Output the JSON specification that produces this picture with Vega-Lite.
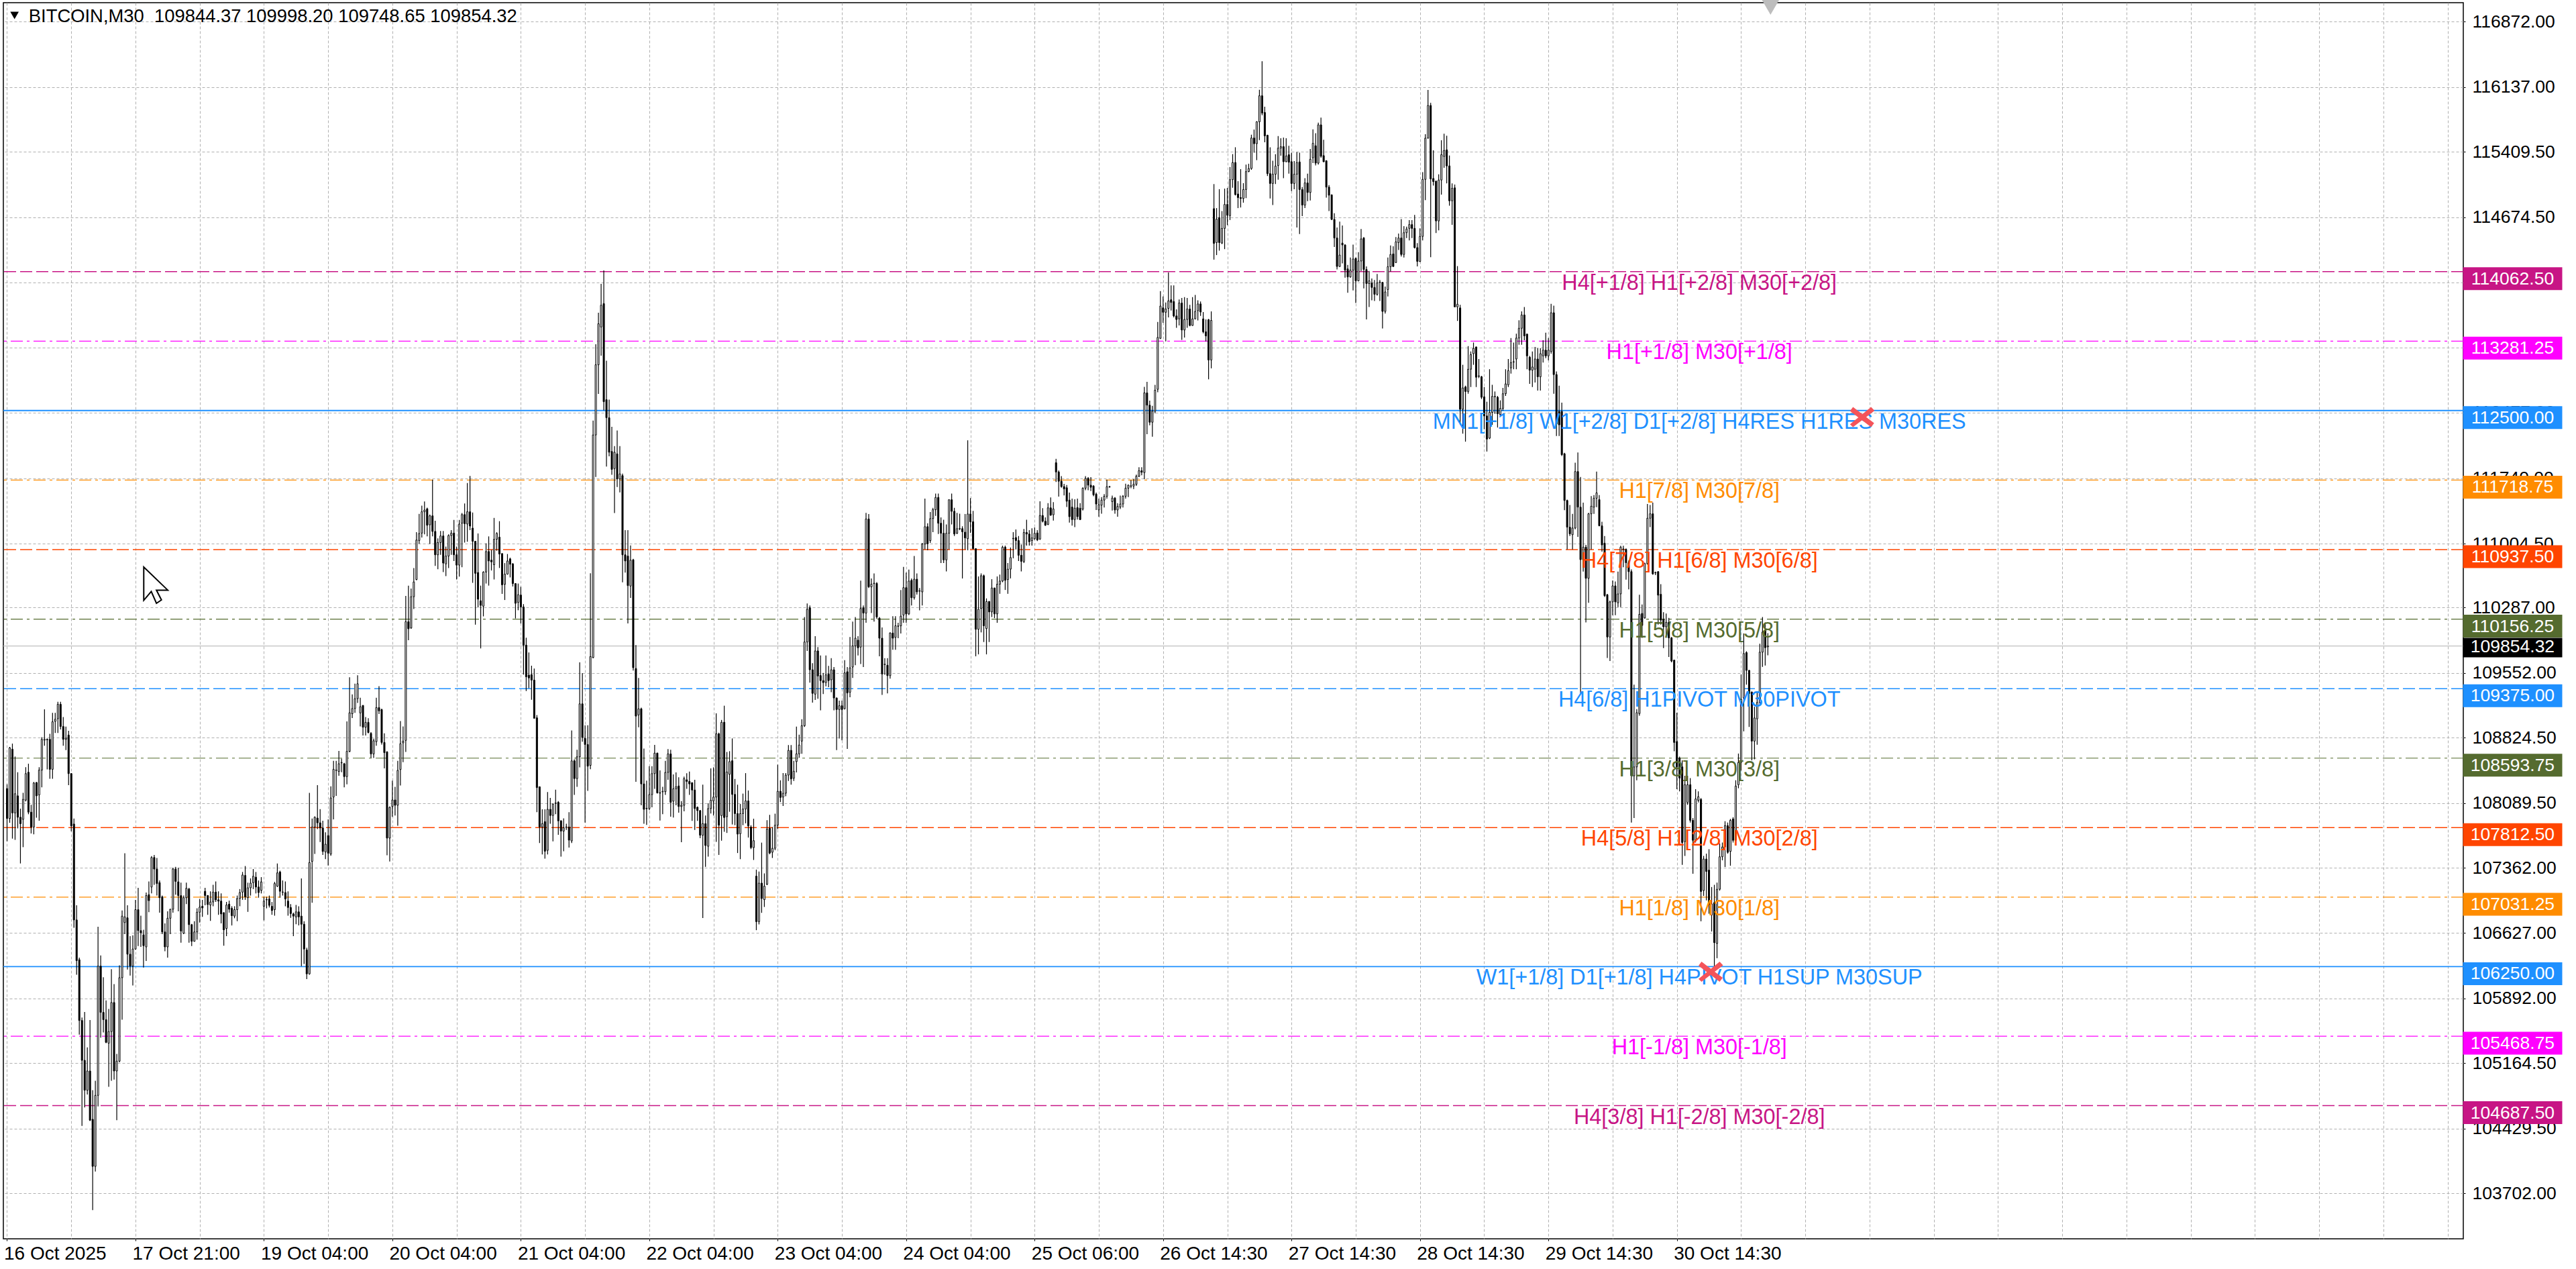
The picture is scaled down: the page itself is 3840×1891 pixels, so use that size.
{"$schema":"https://vega.github.io/schema/vega-lite/v6.json","width":3667,"height":1842,"autosize":{"type":"none"},"padding":{"left":5,"top":4,"right":168,"bottom":45},"background":"#ffffff","view":{"stroke":"#000000","strokeWidth":1.5},"datasets":{"levels":[{"p":114062.5,"name":"H4[+1/8] H1[+2/8] M30[+2/8]","band":"violet","kind":"dash","tag":"114062.50"},{"p":113281.25,"name":"H1[+1/8] M30[+1/8]","band":"magenta","kind":"dashdot","tag":"113281.25"},{"p":112500,"name":"MN1[+1/8] W1[+2/8] D1[+2/8] H4RES H1RES M30RES","band":"blue","kind":"heavy","tag":"112500.00"},{"p":111718.75,"name":"H1[7/8] M30[7/8]","band":"orange","kind":"dashdot","tag":"111718.75"},{"p":110937.5,"name":"H4[7/8] H1[6/8] M30[6/8]","band":"red","kind":"dash","tag":"110937.50"},{"p":110156.25,"name":"H1[5/8] M30[5/8]","band":"olive","kind":"dashdot","tag":"110156.25"},{"p":109375,"name":"H4[6/8] H1PIVOT M30PIVOT","band":"blue","kind":"dash","tag":"109375.00"},{"p":108593.75,"name":"H1[3/8] M30[3/8]","band":"olive","kind":"dashdot","tag":"108593.75"},{"p":107812.5,"name":"H4[5/8] H1[2/8] M30[2/8]","band":"red","kind":"dash","tag":"107812.50"},{"p":107031.25,"name":"H1[1/8] M30[1/8]","band":"orange","kind":"dashdot","tag":"107031.25"},{"p":106250,"name":"W1[+1/8] D1[+1/8] H4PIVOT H1SUP M30SUP","band":"blue","kind":"solid","tag":"106250.00"},{"p":105468.75,"name":"H1[-1/8] M30[-1/8]","band":"magenta","kind":"dashdot","tag":"105468.75"},{"p":104687.5,"name":"H4[3/8] H1[-2/8] M30[-2/8]","band":"violet","kind":"dash","tag":"104687.50"}],"last":[{"p":109854.32,"tag":"109854.32"}],"notes":[{"what":"cross","i":693.2,"p":112427},{"what":"cross","i":636.6,"p":106193},{"what":"cursor","i":55.6,"p":110538},{"what":"shift","i":659,"p":117047},{"what":"menu","i":2.8,"p":116942}],"head":[{"i":8.1,"p":116927,"t":"BITCOIN,M30 \u00a0109844.37 109998.20 109748.65 109854.32"}],"c":[
{"i":0,"o":108252,"h":108300,"l":107660,"c":107915},{"i":1,"o":107915,"h":108720,"l":107867,"c":108709},{"i":2,"o":108694,"h":108757,"l":107689,"c":107978},{"i":3,"o":107978,"h":108612,"l":107675,"c":108194},{"i":4,"o":108170,"h":108435,"l":107804,"c":107929},{"i":5,"o":107929,"h":108026,"l":107410,"c":107857},{"i":6,"o":107905,"h":108204,"l":107593,"c":108131},{"i":7,"o":108122,"h":108492,"l":108107,"c":108420},{"i":8,"o":108435,"h":108531,"l":107963,"c":107987},{"i":9,"o":107987,"h":108069,"l":107747,"c":107819},
{"i":10,"o":107819,"h":108325,"l":107737,"c":108314},{"i":11,"o":108319,"h":108325,"l":107925,"c":108170},{"i":12,"o":108180,"h":108492,"l":107891,"c":108459},{"i":13,"o":108459,"h":108829,"l":108266,"c":108805},{"i":14,"o":108796,"h":109142,"l":108733,"c":108805},{"i":15,"o":108805,"h":108815,"l":108468,"c":108800},{"i":16,"o":108805,"h":108867,"l":108362,"c":108468},{"i":17,"o":108468,"h":109103,"l":108362,"c":109002},{"i":18,"o":109007,"h":109103,"l":108877,"c":109031},{"i":19,"o":109036,"h":109228,"l":108877,"c":109199},
{"i":20,"o":109199,"h":109228,"l":108916,"c":108949},{"i":21,"o":108949,"h":109055,"l":108733,"c":108805},{"i":22,"o":108805,"h":108949,"l":108685,"c":108819},{"i":23,"o":108853,"h":108901,"l":108290,"c":108420},{"i":24,"o":108420,"h":108425,"l":107771,"c":107833},{"i":25,"o":107853,"h":107915,"l":106688,"c":106775},{"i":26,"o":106775,"h":106939,"l":106159,"c":106318},{"i":27,"o":106328,"h":106352,"l":105486,"c":105645},{"i":28,"o":105645,"h":105678,"l":104461,"c":105197},{"i":29,"o":105197,"h":105741,"l":104668,"c":104861},
{"i":30,"o":104861,"h":105342,"l":104813,"c":105077},{"i":31,"o":105077,"h":105650,"l":104515,"c":104524},{"i":32,"o":104534,"h":104861,"l":103514,"c":104005},{"i":33,"o":104005,"h":104967,"l":103947,"c":104803},{"i":34,"o":104803,"h":106698,"l":104678,"c":106256},{"i":35,"o":106256,"h":106376,"l":105452,"c":105736},{"i":36,"o":105736,"h":106131,"l":105510,"c":105654},{"i":37,"o":105654,"h":105871,"l":105390,"c":105399},{"i":38,"o":105390,"h":105775,"l":104899,"c":105520},{"i":39,"o":105520,"h":106222,"l":104967,"c":105847},
{"i":40,"o":105847,"h":106054,"l":104981,"c":105077},{"i":41,"o":105077,"h":105270,"l":104524,"c":105188},{"i":42,"o":105188,"h":106265,"l":105174,"c":106126},{"i":43,"o":106126,"h":106881,"l":105654,"c":106818},{"i":44,"o":106746,"h":107525,"l":106616,"c":106809},{"i":45,"o":106799,"h":106939,"l":106217,"c":106390},{"i":46,"o":106390,"h":106592,"l":106150,"c":106256},{"i":47,"o":106256,"h":106602,"l":106039,"c":106448},{"i":48,"o":106448,"h":107001,"l":106440,"c":106891},{"i":49,"o":106891,"h":107136,"l":106482,"c":106655},
{"i":50,"o":106655,"h":106823,"l":106472,"c":106630},{"i":51,"o":106607,"h":106664,"l":106241,"c":106486},{"i":52,"o":106472,"h":107083,"l":106313,"c":107049},{"i":53,"o":107059,"h":107208,"l":106862,"c":106992},{"i":54,"o":107145,"h":107492,"l":107073,"c":107477},{"i":55,"o":107477,"h":107506,"l":107169,"c":107347},{"i":56,"o":107347,"h":107472,"l":107049,"c":107184},{"i":57,"o":107194,"h":107218,"l":106857,"c":107025},{"i":58,"o":107035,"h":107049,"l":106616,"c":106640},{"i":59,"o":106640,"h":106737,"l":106424,"c":106472},
{"i":60,"o":106472,"h":106871,"l":106352,"c":106794},{"i":61,"o":106794,"h":106900,"l":106616,"c":106895},{"i":62,"o":106895,"h":107362,"l":106857,"c":107347},{"i":63,"o":107347,"h":107372,"l":107059,"c":107208},{"i":64,"o":107203,"h":107362,"l":106871,"c":107049},{"i":65,"o":107049,"h":107194,"l":106520,"c":106650},{"i":66,"o":106626,"h":107049,"l":106616,"c":107025},{"i":67,"o":107025,"h":107194,"l":106953,"c":107131},{"i":68,"o":107122,"h":107136,"l":106520,"c":106722},{"i":69,"o":106722,"h":106730,"l":106482,"c":106535},
{"i":70,"o":106535,"h":106761,"l":106530,"c":106640},{"i":71,"o":106640,"h":106905,"l":106554,"c":106862},{"i":72,"o":106862,"h":107011,"l":106746,"c":106919},{"i":73,"o":106929,"h":107001,"l":106809,"c":106910},{"i":74,"o":107097,"h":107136,"l":106939,"c":107049},{"i":75,"o":107049,"h":107055,"l":106833,"c":106948},{"i":76,"o":106943,"h":107097,"l":106765,"c":106977},{"i":77,"o":106977,"h":107169,"l":106929,"c":107088},{"i":78,"o":107088,"h":107208,"l":106977,"c":107001},{"i":79,"o":107001,"h":107097,"l":106833,"c":106987},
{"i":80,"o":106987,"h":107073,"l":106737,"c":106842},{"i":81,"o":106857,"h":106860,"l":106486,"c":106664},{"i":82,"o":106679,"h":106977,"l":106592,"c":106943},{"i":83,"o":106953,"h":106992,"l":106857,"c":106895},{"i":84,"o":106905,"h":106929,"l":106713,"c":106823},{"i":85,"o":106818,"h":106929,"l":106794,"c":106891},{"i":86,"o":106891,"h":107049,"l":106761,"c":107016},{"i":87,"o":107016,"h":107122,"l":106929,"c":107083},{"i":88,"o":107088,"h":107314,"l":107001,"c":107280},{"i":89,"o":107275,"h":107381,"l":107001,"c":107035},
{"i":90,"o":107025,"h":107194,"l":106866,"c":107136},{"i":91,"o":107136,"h":107242,"l":107049,"c":107189},{"i":92,"o":107194,"h":107347,"l":107122,"c":107266},{"i":93,"o":107256,"h":107314,"l":107073,"c":107145},{"i":94,"o":107145,"h":107218,"l":107025,"c":107083},{"i":95,"o":107107,"h":107256,"l":107073,"c":107203},{"i":96,"o":106929,"h":107035,"l":106770,"c":106987},{"i":97,"o":107000,"h":107035,"l":106905,"c":107005},{"i":98,"o":107011,"h":107049,"l":106915,"c":106939},{"i":99,"o":106929,"h":106977,"l":106833,"c":106881},
{"i":100,"o":106891,"h":107203,"l":106823,"c":107184},{"i":101,"o":107155,"h":107410,"l":107145,"c":107304},{"i":102,"o":107314,"h":107328,"l":107025,"c":107097},{"i":103,"o":107085,"h":107218,"l":107049,"c":107090},{"i":104,"o":107083,"h":107208,"l":106929,"c":107011},{"i":105,"o":106987,"h":107097,"l":106823,"c":106915},{"i":106,"o":106915,"h":106953,"l":106799,"c":106847},{"i":107,"o":106842,"h":106857,"l":106592,"c":106818},{"i":108,"o":106809,"h":106943,"l":106727,"c":106866},{"i":109,"o":106866,"h":106929,"l":106713,"c":106809},
{"i":110,"o":106818,"h":107242,"l":106256,"c":106727},{"i":111,"o":106727,"h":106761,"l":106280,"c":106448},{"i":112,"o":106438,"h":106462,"l":106111,"c":106169},{"i":113,"o":106169,"h":108204,"l":106159,"c":107420},{"i":114,"o":107434,"h":107915,"l":106968,"c":107819},{"i":115,"o":107819,"h":107939,"l":107516,"c":107929},{"i":116,"o":107920,"h":108290,"l":107795,"c":107867},{"i":117,"o":107867,"h":108021,"l":107650,"c":107809},{"i":118,"o":107809,"h":107891,"l":107506,"c":107545},{"i":119,"o":107540,"h":107761,"l":107458,"c":107626},
{"i":120,"o":107723,"h":107905,"l":107386,"c":107525},{"i":121,"o":107516,"h":108276,"l":107497,"c":108146},{"i":122,"o":108156,"h":108564,"l":107905,"c":108468},{"i":123,"o":108455,"h":108564,"l":108170,"c":108460},{"i":124,"o":108444,"h":108675,"l":108396,"c":108531},{"i":125,"o":108540,"h":108588,"l":108435,"c":108545},{"i":126,"o":108531,"h":108540,"l":108266,"c":108386},{"i":127,"o":108386,"h":109007,"l":108300,"c":108670},{"i":128,"o":108670,"h":109502,"l":108660,"c":109103},{"i":129,"o":109093,"h":109310,"l":109045,"c":109151},
{"i":130,"o":109151,"h":109430,"l":109103,"c":109262},{"i":131,"o":109262,"h":109526,"l":109214,"c":109430},{"i":132,"o":109102,"h":109273,"l":108950,"c":109172},{"i":133,"o":109186,"h":109190,"l":108849,"c":108941},{"i":134,"o":108941,"h":109056,"l":108849,"c":108996},{"i":135,"o":108996,"h":109042,"l":108872,"c":108881},{"i":136,"o":108872,"h":108885,"l":108595,"c":108641},{"i":137,"o":108641,"h":108812,"l":108595,"c":108789},{"i":138,"o":108779,"h":109273,"l":108733,"c":109162},{"i":139,"o":109162,"h":109402,"l":109089,"c":109125},
{"i":140,"o":109139,"h":109150,"l":108747,"c":108770},{"i":141,"o":108770,"h":108872,"l":108479,"c":108655},{"i":142,"o":108664,"h":108670,"l":107501,"c":107695},{"i":143,"o":107695,"h":108050,"l":107432,"c":108041},{"i":144,"o":108050,"h":108341,"l":107935,"c":108124},{"i":145,"o":108124,"h":108272,"l":107949,"c":108064},{"i":146,"o":108064,"h":108563,"l":107834,"c":108456},{"i":147,"o":108466,"h":109010,"l":108286,"c":108756},{"i":148,"o":108766,"h":108950,"l":108549,"c":108784},{"i":149,"o":108793,"h":110417,"l":108664,"c":110127},
{"i":150,"o":110127,"h":110533,"l":109919,"c":110048},{"i":151,"o":110057,"h":110500,"l":110048,"c":110408},{"i":152,"o":110408,"h":110731,"l":110270,"c":110574},{"i":153,"o":110602,"h":111133,"l":110593,"c":111045},{"i":154,"o":111040,"h":111340,"l":111003,"c":111119},{"i":155,"o":111123,"h":111432,"l":111073,"c":111363},{"i":156,"o":111363,"h":111479,"l":111109,"c":111382},{"i":157,"o":111396,"h":111409,"l":111086,"c":111211},{"i":158,"o":111216,"h":111331,"l":111001,"c":111317},{"i":159,"o":111317,"h":111723,"l":111086,"c":111142},
{"i":160,"o":111142,"h":111262,"l":110754,"c":110879},{"i":161,"o":110879,"h":111063,"l":110717,"c":111017},{"i":162,"o":111017,"h":111146,"l":110879,"c":111091},{"i":163,"o":111091,"h":111146,"l":110685,"c":110786},{"i":164,"o":110777,"h":110971,"l":110639,"c":110865},{"i":165,"o":110865,"h":111110,"l":110731,"c":111096},{"i":166,"o":111096,"h":111156,"l":110879,"c":111123},{"i":167,"o":111123,"h":111271,"l":110810,"c":110879},{"i":168,"o":110879,"h":110971,"l":110602,"c":110763},{"i":169,"o":110763,"h":111271,"l":110634,"c":111225},
{"i":170,"o":111234,"h":111349,"l":110740,"c":111331},{"i":171,"o":111331,"h":111456,"l":111017,"c":111229},{"i":172,"o":111225,"h":111686,"l":111026,"c":111363},{"i":173,"o":111363,"h":111765,"l":111156,"c":111202},{"i":174,"o":111179,"h":111354,"l":110565,"c":111031},{"i":175,"o":111031,"h":111035,"l":110094,"c":110671},{"i":176,"o":110680,"h":111119,"l":110288,"c":110380},{"i":177,"o":110362,"h":110533,"l":109827,"c":110311},{"i":178,"o":110302,"h":110694,"l":110187,"c":110685},{"i":179,"o":110685,"h":111008,"l":110556,"c":110916},
{"i":180,"o":110916,"h":111086,"l":110533,"c":110810},{"i":181,"o":110819,"h":110934,"l":110703,"c":110800},{"i":182,"o":110768,"h":111294,"l":110602,"c":111054},{"i":183,"o":111054,"h":111133,"l":110925,"c":111119},{"i":184,"o":111077,"h":111257,"l":110731,"c":110888},{"i":185,"o":110893,"h":110895,"l":110440,"c":110542},{"i":186,"o":110547,"h":110786,"l":110371,"c":110662},{"i":187,"o":110662,"h":110888,"l":110657,"c":110810},{"i":188,"o":110833,"h":110847,"l":110625,"c":110773},{"i":189,"o":110777,"h":110786,"l":110523,"c":110556},
{"i":190,"o":110556,"h":110560,"l":110164,"c":110334},{"i":191,"o":110344,"h":110556,"l":110256,"c":110431},{"i":192,"o":110427,"h":110519,"l":110108,"c":110293},{"i":193,"o":110293,"h":110325,"l":109532,"c":109864},{"i":194,"o":109864,"h":109947,"l":109347,"c":109508},{"i":195,"o":109527,"h":109781,"l":109379,"c":109495},{"i":196,"o":109532,"h":109633,"l":109250,"c":109471},{"i":197,"o":109471,"h":109601,"l":109040,"c":109042},{"i":198,"o":109047,"h":109079,"l":107986,"c":108263},{"i":199,"o":108272,"h":108275,"l":107640,"c":107820},
{"i":200,"o":107820,"h":108018,"l":107511,"c":107857},{"i":201,"o":107880,"h":108018,"l":107464,"c":107547},{"i":202,"o":107557,"h":108212,"l":107511,"c":108018},{"i":203,"o":108018,"h":108147,"l":107857,"c":107949},{"i":204,"o":107949,"h":108085,"l":107658,"c":108078},{"i":205,"o":108085,"h":108240,"l":107963,"c":108090},{"i":206,"o":108097,"h":108110,"l":107732,"c":107889},{"i":207,"o":107889,"h":107895,"l":107487,"c":107774},{"i":208,"o":107774,"h":107917,"l":107547,"c":107811},{"i":209,"o":107815,"h":107857,"l":107787,"c":107820},
{"i":210,"o":107820,"h":107986,"l":107589,"c":107672},{"i":211,"o":107663,"h":108904,"l":107640,"c":108563},{"i":212,"o":108563,"h":108581,"l":108180,"c":108364},{"i":213,"o":108364,"h":108687,"l":108272,"c":108609},{"i":214,"o":108609,"h":109670,"l":108489,"c":109204},{"i":215,"o":109204,"h":109550,"l":108779,"c":108826},{"i":216,"o":108816,"h":108964,"l":107870,"c":108747},{"i":217,"o":108747,"h":108964,"l":108226,"c":108503},{"i":218,"o":108512,"h":110671,"l":108470,"c":109735},{"i":219,"o":109725,"h":112388,"l":109716,"c":112226},
{"i":220,"o":112226,"h":113246,"l":111755,"c":113015},{"i":221,"o":113015,"h":113601,"l":112687,"c":113476},{"i":222,"o":113440,"h":113924,"l":113117,"c":113684},{"i":223,"o":113703,"h":114076,"l":112503,"c":112600},{"i":224,"o":112623,"h":113061,"l":111871,"c":112420},{"i":225,"o":112420,"h":112623,"l":111986,"c":112032},{"i":226,"o":112041,"h":112318,"l":111779,"c":111839},{"i":227,"o":111848,"h":112101,"l":111349,"c":112032},{"i":228,"o":112014,"h":112277,"l":111640,"c":111732},{"i":229,"o":111732,"h":112101,"l":111580,"c":111788},
{"i":230,"o":111769,"h":111792,"l":110570,"c":110879},{"i":231,"o":110879,"h":111156,"l":110680,"c":110810},{"i":232,"o":110865,"h":111156,"l":110108,"c":110533},{"i":233,"o":110528,"h":110985,"l":110394,"c":110819},{"i":234,"o":110823,"h":110833,"l":109578,"c":109610},{"i":235,"o":109601,"h":109864,"l":108327,"c":109066},{"i":236,"o":109079,"h":109495,"l":108941,"c":109148},{"i":237,"o":109148,"h":109162,"l":108064,"c":108304},{"i":238,"o":108304,"h":108701,"l":107857,"c":108018},{"i":239,"o":108030,"h":108341,"l":107843,"c":108025},
{"i":240,"o":108027,"h":108503,"l":108009,"c":108184},{"i":241,"o":108184,"h":108503,"l":108041,"c":108420},{"i":242,"o":108420,"h":108743,"l":108249,"c":108650},{"i":243,"o":108650,"h":108655,"l":108195,"c":108203},{"i":244,"o":108205,"h":108456,"l":107893,"c":108200},{"i":245,"o":108215,"h":108272,"l":107963,"c":108220},{"i":246,"o":108217,"h":108563,"l":108180,"c":108433},{"i":247,"o":108433,"h":108696,"l":108350,"c":108641},{"i":248,"o":108641,"h":108687,"l":107935,"c":108097},{"i":249,"o":108110,"h":108410,"l":107926,"c":108249},
{"i":250,"o":108249,"h":108433,"l":108064,"c":108272},{"i":251,"o":108281,"h":108378,"l":107981,"c":108050},{"i":252,"o":108050,"h":108110,"l":107649,"c":108064},{"i":253,"o":108064,"h":108387,"l":107995,"c":108364},{"i":254,"o":108350,"h":108424,"l":108249,"c":108332},{"i":255,"o":108332,"h":108443,"l":108180,"c":108304},{"i":256,"o":108318,"h":108320,"l":107889,"c":108235},{"i":257,"o":108235,"h":108350,"l":107787,"c":108027},{"i":258,"o":108041,"h":108050,"l":107889,"c":108004},{"i":259,"o":108004,"h":108010,"l":107695,"c":107727},
{"i":260,"o":107727,"h":108295,"l":106796,"c":107857},{"i":261,"o":107857,"h":107949,"l":107372,"c":107612},{"i":262,"o":107603,"h":108087,"l":107487,"c":108027},{"i":263,"o":108027,"h":108479,"l":107972,"c":108120},{"i":264,"o":108113,"h":108490,"l":107948,"c":108156},{"i":265,"o":108156,"h":109097,"l":107653,"c":108867},{"i":266,"o":108867,"h":108880,"l":107506,"c":107840},{"i":267,"o":107948,"h":109023,"l":107666,"c":108997},{"i":268,"o":108997,"h":109183,"l":107766,"c":107926},{"i":269,"o":107935,"h":108663,"l":107753,"c":108438},
{"i":270,"o":108412,"h":108672,"l":107991,"c":108555},{"i":271,"o":108564,"h":108815,"l":107848,"c":108186},{"i":272,"o":108186,"h":108360,"l":107840,"c":107970},{"i":273,"o":107970,"h":108295,"l":107527,"c":107740},{"i":274,"o":107744,"h":108078,"l":107458,"c":107970},{"i":275,"o":107970,"h":108195,"l":107840,"c":108022},{"i":276,"o":108022,"h":108425,"l":107861,"c":108113},{"i":277,"o":108113,"h":108230,"l":107701,"c":107831},{"i":278,"o":107818,"h":107840,"l":107571,"c":107588},{"i":279,"o":107588,"h":107913,"l":107449,"c":107666},
{"i":280,"o":107267,"h":107341,"l":106660,"c":106756},{"i":281,"o":106756,"h":107319,"l":106725,"c":107189},{"i":282,"o":107189,"h":107644,"l":106855,"c":107016},{"i":283,"o":107003,"h":107298,"l":106921,"c":107155},{"i":284,"o":107176,"h":107896,"l":107167,"c":107796},{"i":285,"o":107805,"h":107957,"l":107514,"c":107527},{"i":286,"o":107536,"h":107818,"l":107471,"c":107580},{"i":287,"o":107580,"h":107970,"l":107558,"c":107840},{"i":288,"o":107840,"h":108520,"l":107796,"c":108221},{"i":289,"o":108221,"h":108345,"l":108100,"c":108152},
{"i":290,"o":108156,"h":108425,"l":108056,"c":108199},{"i":291,"o":108199,"h":108425,"l":108165,"c":108403},{"i":292,"o":108403,"h":108741,"l":108338,"c":108681},{"i":293,"o":108681,"h":108741,"l":108295,"c":108360},{"i":294,"o":108368,"h":108564,"l":108338,"c":108446},{"i":295,"o":108555,"h":108949,"l":108433,"c":108642},{"i":296,"o":108642,"h":108858,"l":108598,"c":108741},{"i":297,"o":108785,"h":109032,"l":108642,"c":108958},{"i":298,"o":108958,"h":110180,"l":108945,"c":109899},{"i":299,"o":109899,"h":110332,"l":109799,"c":110267},
{"i":300,"o":110284,"h":110310,"l":109443,"c":109587},{"i":301,"o":109587,"h":109660,"l":109218,"c":109322},{"i":302,"o":109313,"h":109964,"l":109248,"c":109799},{"i":303,"o":109799,"h":109842,"l":109262,"c":109517},{"i":304,"o":109522,"h":109747,"l":109131,"c":109465},{"i":305,"o":109465,"h":109552,"l":109313,"c":109443},{"i":306,"o":109443,"h":109747,"l":109400,"c":109530},{"i":307,"o":109539,"h":109630,"l":109392,"c":109465},{"i":308,"o":109474,"h":109717,"l":109335,"c":109587},{"i":309,"o":109587,"h":109617,"l":109131,"c":109270},
{"i":310,"o":109270,"h":109275,"l":108685,"c":109140},{"i":311,"o":109140,"h":109240,"l":108815,"c":109183},{"i":312,"o":109183,"h":109240,"l":108793,"c":109140},{"i":313,"o":109149,"h":109695,"l":109140,"c":109552},{"i":314,"o":109565,"h":109617,"l":108698,"c":109326},{"i":315,"o":109335,"h":109955,"l":109279,"c":109608},{"i":316,"o":109617,"h":110128,"l":109495,"c":109855},{"i":317,"o":109855,"h":110180,"l":109638,"c":109942},{"i":318,"o":109920,"h":109964,"l":109747,"c":109834},{"i":319,"o":109842,"h":110588,"l":109651,"c":110276},
{"i":320,"o":110284,"h":110310,"l":109617,"c":110224},{"i":321,"o":110224,"h":111351,"l":110115,"c":111282},{"i":322,"o":111282,"h":111338,"l":110506,"c":110519},{"i":323,"o":110519,"h":110614,"l":110224,"c":110549},{"i":324,"o":110555,"h":110670,"l":110128,"c":110560},{"i":325,"o":110558,"h":110571,"l":110159,"c":110180},{"i":326,"o":110167,"h":110180,"l":109738,"c":109942},{"i":327,"o":109942,"h":110063,"l":109305,"c":109539},{"i":328,"o":109645,"h":109717,"l":109530,"c":109650},{"i":329,"o":109638,"h":109717,"l":109322,"c":109521},
{"i":330,"o":109521,"h":110007,"l":109487,"c":110000},{"i":331,"o":110000,"h":110189,"l":109812,"c":109942},{"i":332,"o":109951,"h":110189,"l":109812,"c":110081},{"i":333,"o":110075,"h":110115,"l":109942,"c":110080},{"i":334,"o":110081,"h":110484,"l":109994,"c":110189},{"i":335,"o":110202,"h":110744,"l":110115,"c":110510},{"i":336,"o":110510,"h":110679,"l":110115,"c":110215},{"i":337,"o":110215,"h":110714,"l":110202,"c":110584},{"i":338,"o":110592,"h":110614,"l":110310,"c":110397},{"i":339,"o":110397,"h":110865,"l":110375,"c":110605},
{"i":340,"o":110605,"h":110670,"l":110432,"c":110462},{"i":341,"o":110470,"h":110506,"l":110254,"c":110475},{"i":342,"o":110462,"h":111013,"l":110310,"c":111000},{"i":343,"o":111000,"h":111511,"l":110939,"c":111195},{"i":344,"o":111195,"h":111234,"l":110930,"c":111004},{"i":345,"o":111039,"h":111360,"l":111013,"c":111286},{"i":346,"o":111286,"h":111407,"l":111134,"c":111386},{"i":347,"o":111386,"h":111568,"l":111316,"c":111524},{"i":348,"o":111524,"h":111568,"l":111113,"c":111234},{"i":349,"o":111234,"h":111299,"l":110787,"c":111121},
{"i":350,"o":111121,"h":111273,"l":110787,"c":110822},{"i":351,"o":110822,"h":111221,"l":110692,"c":111121},{"i":352,"o":111121,"h":111503,"l":110939,"c":111498},{"i":353,"o":111498,"h":111568,"l":111221,"c":111368},{"i":354,"o":111368,"h":111407,"l":111091,"c":111113},{"i":355,"o":111121,"h":111351,"l":111113,"c":111173},{"i":356,"o":111170,"h":111342,"l":111156,"c":111175},{"i":357,"o":111173,"h":111199,"l":110614,"c":111138},{"i":358,"o":111134,"h":111338,"l":110939,"c":111069},{"i":359,"o":111060,"h":112166,"l":110930,"c":111338},
{"i":360,"o":111338,"h":111516,"l":111125,"c":111251},{"i":361,"o":111251,"h":111373,"l":110939,"c":110948},{"i":362,"o":110948,"h":110950,"l":109738,"c":110042},{"i":363,"o":110042,"h":110636,"l":109760,"c":110267},{"i":364,"o":110276,"h":110670,"l":110007,"c":110644},{"i":365,"o":110644,"h":110657,"l":109899,"c":110081},{"i":366,"o":110050,"h":110389,"l":109760,"c":110354},{"i":367,"o":110354,"h":110360,"l":109899,"c":110237},{"i":368,"o":110237,"h":110605,"l":110180,"c":110506},{"i":369,"o":110506,"h":110510,"l":110167,"c":110215},
{"i":370,"o":110215,"h":110636,"l":110115,"c":110549},{"i":371,"o":110549,"h":110657,"l":110441,"c":110584},{"i":372,"o":110584,"h":110982,"l":110571,"c":110965},{"i":373,"o":110965,"h":110982,"l":110484,"c":110592},{"i":374,"o":110601,"h":110787,"l":110441,"c":110718},{"i":375,"o":110718,"h":110961,"l":110614,"c":110848},{"i":376,"o":111060,"h":111134,"l":110839,"c":111065},{"i":377,"o":111073,"h":111164,"l":110939,"c":111039},{"i":378,"o":111039,"h":111091,"l":110809,"c":110874},{"i":379,"o":110874,"h":110994,"l":110692,"c":110805},
{"i":380,"o":110805,"h":111169,"l":110787,"c":111130},{"i":381,"o":111130,"h":111273,"l":110982,"c":111113},{"i":382,"o":111113,"h":111156,"l":110982,"c":111026},{"i":383,"o":111039,"h":111177,"l":110982,"c":111069},{"i":384,"o":111060,"h":111186,"l":111047,"c":111121},{"i":385,"o":111125,"h":111156,"l":111034,"c":111047},{"i":386,"o":111056,"h":111481,"l":111047,"c":111321},{"i":387,"o":111321,"h":111403,"l":111243,"c":111256},{"i":388,"o":111256,"h":111299,"l":111204,"c":111212},{"i":389,"o":111221,"h":111459,"l":111212,"c":111407},
{"i":390,"o":111407,"h":111524,"l":111316,"c":111325},{"i":391,"o":111329,"h":111472,"l":111264,"c":111394},{"i":392,"o":111914,"h":111958,"l":111698,"c":111810},{"i":393,"o":111810,"h":111828,"l":111533,"c":111706},{"i":394,"o":111706,"h":111763,"l":111633,"c":111646},{"i":395,"o":111646,"h":111676,"l":111546,"c":111620},{"i":396,"o":111633,"h":111663,"l":111416,"c":111481},{"i":397,"o":111494,"h":111578,"l":111241,"c":111308},{"i":398,"o":111416,"h":111510,"l":111207,"c":111275},{"i":399,"o":111275,"h":111504,"l":111191,"c":111403},
{"i":400,"o":111410,"h":111510,"l":111275,"c":111308},{"i":401,"o":111403,"h":111460,"l":111270,"c":111275},{"i":402,"o":111393,"h":111638,"l":111376,"c":111628},{"i":403,"o":111628,"h":111763,"l":111605,"c":111739},{"i":404,"o":111739,"h":111753,"l":111605,"c":111662},{"i":405,"o":111662,"h":111753,"l":111595,"c":111638},{"i":406,"o":111652,"h":111662,"l":111537,"c":111554},{"i":407,"o":111561,"h":111578,"l":111383,"c":111450},{"i":408,"o":111383,"h":111510,"l":111308,"c":111443},{"i":409,"o":111437,"h":111527,"l":111342,"c":111494},
{"i":410,"o":111494,"h":111561,"l":111410,"c":111537},{"i":411,"o":111537,"h":111723,"l":111510,"c":111645},{"i":412,"o":111640,"h":111655,"l":111635,"c":111645},{"i":413,"o":111477,"h":111544,"l":111376,"c":111517},{"i":414,"o":111517,"h":111527,"l":111342,"c":111383},{"i":415,"o":111383,"h":111460,"l":111308,"c":111423},{"i":416,"o":111416,"h":111544,"l":111393,"c":111450},{"i":417,"o":111450,"h":111551,"l":111410,"c":111537},{"i":418,"o":111537,"h":111679,"l":111510,"c":111628},{"i":419,"o":111628,"h":111669,"l":111527,"c":111662},
{"i":420,"o":111650,"h":111719,"l":111628,"c":111655},{"i":421,"o":111652,"h":111729,"l":111618,"c":111672},{"i":422,"o":111672,"h":111780,"l":111655,"c":111763},{"i":423,"o":111763,"h":111864,"l":111753,"c":111824},{"i":424,"o":111824,"h":111864,"l":111773,"c":111807},{"i":425,"o":111803,"h":112766,"l":111729,"c":112699},{"i":426,"o":112699,"h":112824,"l":112234,"c":112561},{"i":427,"o":112561,"h":112612,"l":112335,"c":112369},{"i":428,"o":112369,"h":112554,"l":112207,"c":112494},{"i":429,"o":112494,"h":112790,"l":112470,"c":112729},
{"i":430,"o":112739,"h":113497,"l":112706,"c":113322},{"i":431,"o":113312,"h":113844,"l":113305,"c":113675},{"i":432,"o":113655,"h":113783,"l":113487,"c":113605},{"i":433,"o":113605,"h":113716,"l":113278,"c":113642},{"i":434,"o":113649,"h":114053,"l":113548,"c":113733},{"i":435,"o":113746,"h":113908,"l":113625,"c":113716},{"i":436,"o":113726,"h":113908,"l":113548,"c":113564},{"i":437,"o":113564,"h":113638,"l":113430,"c":113524},{"i":438,"o":113531,"h":113750,"l":113457,"c":113709},{"i":439,"o":113709,"h":113766,"l":113295,"c":113406},
{"i":440,"o":113406,"h":113776,"l":113322,"c":113524},{"i":441,"o":113524,"h":113766,"l":113430,"c":113642},{"i":442,"o":113642,"h":113689,"l":113447,"c":113457},{"i":443,"o":113457,"h":113776,"l":113453,"c":113531},{"i":444,"o":113531,"h":113800,"l":113524,"c":113615},{"i":445,"o":113622,"h":113740,"l":113514,"c":113699},{"i":446,"o":113699,"h":113726,"l":113564,"c":113608},{"i":447,"o":113531,"h":113608,"l":113369,"c":113386},{"i":448,"o":113386,"h":113524,"l":113278,"c":113339},{"i":449,"o":113521,"h":113531,"l":112851,"c":113069},
{"i":450,"o":113069,"h":113615,"l":112975,"c":113514},{"i":451,"o":114770,"h":115046,"l":114197,"c":114379},{"i":452,"o":114389,"h":114776,"l":114248,"c":114652},{"i":453,"o":114669,"h":114989,"l":114298,"c":114389},{"i":454,"o":114383,"h":114743,"l":114372,"c":114548},{"i":455,"o":114548,"h":114995,"l":114315,"c":114817},{"i":456,"o":114817,"h":115002,"l":114585,"c":114696},{"i":457,"o":114692,"h":115238,"l":114642,"c":115096},{"i":458,"o":115096,"h":115383,"l":115005,"c":115288},{"i":459,"o":115288,"h":115460,"l":114918,"c":114928},
{"i":460,"o":114935,"h":115079,"l":114776,"c":114894},{"i":461,"o":114894,"h":115214,"l":114783,"c":114884},{"i":462,"o":114884,"h":115056,"l":114837,"c":114985},{"i":463,"o":114985,"h":115265,"l":114888,"c":115187},{"i":464,"o":115187,"h":115275,"l":115180,"c":115221},{"i":465,"o":115221,"h":115601,"l":115207,"c":115564},{"i":466,"o":115564,"h":115659,"l":115399,"c":115500},{"i":467,"o":115500,"h":115753,"l":115315,"c":115746},{"i":468,"o":115746,"h":116106,"l":115541,"c":116039},{"i":469,"o":116039,"h":116426,"l":115820,"c":115844},
{"i":470,"o":115851,"h":115915,"l":115517,"c":115588},{"i":471,"o":115595,"h":115600,"l":115137,"c":115164},{"i":472,"o":115164,"h":115460,"l":114884,"c":115053},{"i":473,"o":115053,"h":115308,"l":114810,"c":115157},{"i":474,"o":115157,"h":115383,"l":115046,"c":115248},{"i":475,"o":115255,"h":115585,"l":115096,"c":115450},{"i":476,"o":115450,"h":115561,"l":115366,"c":115467},{"i":477,"o":115467,"h":115568,"l":115113,"c":115298},{"i":478,"o":115298,"h":115561,"l":115292,"c":115362},{"i":479,"o":115376,"h":115477,"l":115164,"c":115292},
{"i":480,"o":115298,"h":115399,"l":114968,"c":115053},{"i":481,"o":115053,"h":115305,"l":114989,"c":115157},{"i":482,"o":115157,"h":115406,"l":114558,"c":115288},{"i":483,"o":115295,"h":115399,"l":114484,"c":114985},{"i":484,"o":114985,"h":115012,"l":114686,"c":114810},{"i":485,"o":114810,"h":115113,"l":114776,"c":115059},{"i":486,"o":115059,"h":115164,"l":114854,"c":114952},{"i":487,"o":114952,"h":115440,"l":114861,"c":115325},{"i":488,"o":115342,"h":115662,"l":115282,"c":115504},{"i":489,"o":115477,"h":115618,"l":115255,"c":115282},
{"i":490,"o":115282,"h":115736,"l":115265,"c":115712},{"i":491,"o":115712,"h":115793,"l":115342,"c":115359},{"i":492,"o":115366,"h":115544,"l":115292,"c":115298},{"i":493,"o":115308,"h":115315,"l":114894,"c":115012},{"i":494,"o":115012,"h":115036,"l":114743,"c":114921},{"i":495,"o":114925,"h":114930,"l":114642,"c":114649},{"i":496,"o":114649,"h":114719,"l":114339,"c":114440},{"i":497,"o":114440,"h":114558,"l":114086,"c":114120},{"i":498,"o":114120,"h":114625,"l":114113,"c":114248},{"i":499,"o":114383,"h":114581,"l":114154,"c":114362},
{"i":500,"o":114362,"h":114370,"l":113995,"c":114079},{"i":501,"o":114093,"h":114137,"l":113824,"c":114002},{"i":502,"o":114002,"h":114221,"l":113995,"c":114079},{"i":503,"o":114079,"h":114366,"l":113851,"c":114204},{"i":504,"o":114211,"h":114221,"l":113709,"c":113958},{"i":505,"o":113958,"h":114281,"l":113952,"c":114181},{"i":506,"o":114181,"h":114541,"l":114069,"c":114430},{"i":507,"o":114440,"h":114450,"l":113874,"c":114086},{"i":508,"o":114086,"h":114120,"l":113524,"c":113928},{"i":509,"o":113928,"h":114069,"l":113665,"c":113958},
{"i":510,"o":113935,"h":113985,"l":113739,"c":113884},{"i":511,"o":113884,"h":113968,"l":113733,"c":113807},{"i":512,"o":113807,"h":114036,"l":113793,"c":113935},{"i":513,"o":113940,"h":113968,"l":113733,"c":113945},{"i":514,"o":113941,"h":113945,"l":113423,"c":113615},{"i":515,"o":113615,"h":113894,"l":113591,"c":113834},{"i":516,"o":113861,"h":114221,"l":113783,"c":114117},{"i":517,"o":114117,"h":114356,"l":114063,"c":114255},{"i":518,"o":114261,"h":114346,"l":114115,"c":114120},{"i":519,"o":114164,"h":114450,"l":114160,"c":114396},
{"i":520,"o":114389,"h":114490,"l":114305,"c":114440},{"i":521,"o":114440,"h":114652,"l":114231,"c":114255},{"i":522,"o":114255,"h":114574,"l":114221,"c":114500},{"i":523,"o":114500,"h":114568,"l":114440,"c":114541},{"i":524,"o":114548,"h":114642,"l":114413,"c":114591},{"i":525,"o":114591,"h":114642,"l":114440,"c":114548},{"i":526,"o":114548,"h":114699,"l":114322,"c":114332},{"i":527,"o":114332,"h":114383,"l":114120,"c":114177},{"i":528,"o":114177,"h":114548,"l":114170,"c":114457},{"i":529,"o":114458,"h":115180,"l":114413,"c":115099},
{"i":530,"o":115099,"h":115607,"l":114865,"c":115562},{"i":531,"o":115562,"h":116105,"l":115557,"c":115929},{"i":532,"o":115929,"h":115959,"l":114224,"c":115104},{"i":533,"o":115109,"h":115426,"l":115029,"c":115074},{"i":534,"o":115079,"h":115085,"l":114496,"c":114632},{"i":535,"o":114632,"h":115155,"l":114526,"c":115092},{"i":536,"o":115092,"h":115539,"l":114928,"c":115376},{"i":537,"o":115356,"h":115612,"l":115230,"c":115424},{"i":538,"o":115431,"h":115590,"l":115054,"c":115250},{"i":539,"o":115250,"h":115368,"l":114803,"c":114858},
{"i":540,"o":114858,"h":115054,"l":114589,"c":114999},{"i":541,"o":115004,"h":115041,"l":113664,"c":113666},{"i":542,"o":113666,"h":114124,"l":113508,"c":113696},{"i":543,"o":113654,"h":113689,"l":112341,"c":112515},{"i":544,"o":112515,"h":113015,"l":112241,"c":112755},{"i":545,"o":112765,"h":112780,"l":112151,"c":112715},{"i":546,"o":112715,"h":113225,"l":112690,"c":112965},{"i":547,"o":112965,"h":113165,"l":112765,"c":113130},{"i":548,"o":113140,"h":113265,"l":113015,"c":113200},{"i":549,"o":113215,"h":113220,"l":112765,"c":112875},
{"i":550,"o":112890,"h":113080,"l":112865,"c":112885},{"i":551,"o":112880,"h":112890,"l":112630,"c":112650},{"i":552,"o":112655,"h":112765,"l":112290,"c":112440},{"i":553,"o":112440,"h":112600,"l":112040,"c":112180},{"i":554,"o":112190,"h":112965,"l":112180,"c":112480},{"i":555,"o":112480,"h":112790,"l":112340,"c":112660},{"i":556,"o":112655,"h":112715,"l":112465,"c":112660},{"i":557,"o":112650,"h":112665,"l":112310,"c":112465},{"i":558,"o":112455,"h":112615,"l":112440,"c":112525},{"i":559,"o":112525,"h":112755,"l":112500,"c":112690},
{"i":560,"o":112690,"h":112965,"l":112665,"c":112800},{"i":561,"o":112790,"h":113080,"l":112765,"c":112950},{"i":562,"o":112980,"h":113315,"l":112915,"c":113040},{"i":563,"o":113045,"h":113265,"l":112965,"c":113050},{"i":564,"o":113080,"h":113365,"l":112965,"c":113315},{"i":565,"o":113315,"h":113515,"l":113240,"c":113425},{"i":566,"o":113425,"h":113615,"l":113240,"c":113575},{"i":567,"o":113575,"h":113665,"l":113290,"c":113340},{"i":568,"o":113360,"h":113365,"l":112965,"c":113115},{"i":569,"o":113100,"h":113115,"l":112800,"c":112955},
{"i":570,"o":112955,"h":113165,"l":112765,"c":112990},{"i":571,"o":112965,"h":113215,"l":112815,"c":113080},{"i":572,"o":113080,"h":113200,"l":112725,"c":112880},{"i":573,"o":112880,"h":113200,"l":112725,"c":113140},{"i":574,"o":113115,"h":113290,"l":113040,"c":113180},{"i":575,"o":113180,"h":113375,"l":113090,"c":113115},{"i":576,"o":113115,"h":113315,"l":113065,"c":113180},{"i":577,"o":113165,"h":113700,"l":113140,"c":113600},{"i":578,"o":113600,"h":113680,"l":112690,"c":112905},{"i":579,"o":112905,"h":112940,"l":112215,"c":112350},
{"i":580,"o":112490,"h":112780,"l":112215,"c":112340},{"i":581,"o":112490,"h":112590,"l":111990,"c":112005},{"i":582,"o":112015,"h":112025,"l":111380,"c":111490},{"i":583,"o":111490,"h":111500,"l":110940,"c":111190},{"i":584,"o":111190,"h":111440,"l":111090,"c":111115},{"i":585,"o":111105,"h":111340,"l":110940,"c":111180},{"i":586,"o":111180,"h":111915,"l":111165,"c":111815},{"i":587,"o":111815,"h":112030,"l":111080,"c":111415},{"i":588,"o":111415,"h":111755,"l":109320,"c":110825},{"i":589,"o":110825,"h":111465,"l":110690,"c":110965},
{"i":590,"o":110965,"h":110990,"l":110120,"c":110615},{"i":591,"o":110615,"h":111350,"l":110340,"c":111340},{"i":592,"o":111340,"h":111540,"l":110940,"c":111425},{"i":593,"o":111415,"h":111550,"l":111340,"c":111515},{"i":594,"o":111515,"h":111815,"l":111415,"c":111575},{"i":595,"o":111500,"h":111550,"l":111200,"c":111205},{"i":596,"o":111205,"h":111250,"l":110915,"c":110990},{"i":597,"o":111010,"h":111090,"l":110405,"c":110420},{"i":598,"o":110430,"h":110440,"l":109720,"c":109955},{"i":599,"o":109955,"h":110365,"l":109685,"c":110350},
{"i":600,"o":110350,"h":110590,"l":110200,"c":110530},{"i":601,"o":110530,"h":110580,"l":110200,"c":110350},{"i":602,"o":110340,"h":110690,"l":110290,"c":110440},{"i":603,"o":110440,"h":110980,"l":110290,"c":110965},{"i":604,"o":110940,"h":110980,"l":110740,"c":110945},{"i":605,"o":110940,"h":110950,"l":110600,"c":110790},{"i":606,"o":110790,"h":110815,"l":110490,"c":110690},{"i":607,"o":110690,"h":110715,"l":107870,"c":108395},{"i":608,"o":108395,"h":109420,"l":107920,"c":108495},{"i":609,"o":108495,"h":109145,"l":108345,"c":109105},
{"i":610,"o":109095,"h":110430,"l":109070,"c":110210},{"i":611,"o":110220,"h":110320,"l":109945,"c":110085},{"i":612,"o":110170,"h":110790,"l":110160,"c":110780},{"i":613,"o":110780,"h":111450,"l":110770,"c":111290},{"i":614,"o":111290,"h":111440,"l":111190,"c":111340},{"i":615,"o":111340,"h":111465,"l":110655,"c":110665},{"i":616,"o":110680,"h":110690,"l":110650,"c":110675},{"i":617,"o":110690,"h":110695,"l":110095,"c":110425},{"i":618,"o":110435,"h":110550,"l":110095,"c":110145},{"i":619,"o":110155,"h":110235,"l":109830,"c":110070},
{"i":620,"o":110070,"h":110220,"l":109945,"c":110120},{"i":621,"o":110120,"h":110170,"l":109730,"c":109945},{"i":622,"o":109945,"h":109955,"l":109670,"c":109685},{"i":623,"o":109695,"h":109700,"l":108670,"c":108770},{"i":624,"o":108780,"h":109105,"l":108245,"c":108495},{"i":625,"o":108595,"h":108610,"l":108220,"c":108370},{"i":626,"o":108495,"h":108570,"l":107395,"c":107645},{"i":627,"o":107655,"h":108395,"l":107495,"c":108295},{"i":628,"o":108095,"h":108395,"l":108070,"c":108295},{"i":629,"o":108295,"h":108370,"l":107870,"c":107895},
{"i":630,"o":107895,"h":107920,"l":107295,"c":107670},{"i":631,"o":107670,"h":108245,"l":107645,"c":108135},{"i":632,"o":108120,"h":108220,"l":108095,"c":108160},{"i":633,"o":108130,"h":108145,"l":106760,"c":107095},{"i":634,"o":107105,"h":107495,"l":107045,"c":107460},{"i":635,"o":107460,"h":107520,"l":106995,"c":107320},{"i":636,"o":107335,"h":107570,"l":106845,"c":106945},{"i":637,"o":106830,"h":107145,"l":106645,"c":106955},{"i":638,"o":106970,"h":107170,"l":106255,"c":106520},{"i":639,"o":106510,"h":107195,"l":106345,"c":107120},
{"i":640,"o":107120,"h":107635,"l":107105,"c":107485},{"i":641,"o":107485,"h":107645,"l":107445,"c":107595},{"i":642,"o":107595,"h":107885,"l":107370,"c":107835},{"i":643,"o":107835,"h":107870,"l":107520,"c":107535},{"i":644,"o":107545,"h":107910,"l":107385,"c":107895},{"i":645,"o":107910,"h":107930,"l":107645,"c":107670},{"i":646,"o":107670,"h":108345,"l":107655,"c":108280},{"i":647,"o":108295,"h":108645,"l":108255,"c":108545},{"i":648,"o":108545,"h":109535,"l":108455,"c":109255},{"i":649,"o":109270,"h":109995,"l":108895,"c":109770},
{"i":650,"o":109780,"h":109795,"l":109420,"c":109580},{"i":651,"o":109580,"h":109585,"l":108945,"c":109320},{"i":652,"o":109335,"h":109345,"l":108570,"c":108785},{"i":653,"o":108785,"h":109170,"l":108580,"c":109045},{"i":654,"o":109035,"h":109345,"l":108745,"c":109220},{"i":655,"o":109220,"h":109880,"l":109195,"c":109785},{"i":656,"o":109785,"h":110180,"l":109620,"c":110010},{"i":657,"o":110030,"h":110120,"l":109635,"c":109835},{"i":658,"o":109844.37,"h":109998.2,"l":109748.65,"c":109854.32}
]},"layer":[
{"data":{"name":"levels"},"mark":{"type":"rule"},"encoding":{"y":{"field":"p","type":"quantitative","title":null,"scale":{"domain":[103191,117085],"nice":false,"zero":false}},"color":{"field":"band","type":"nominal","legend":null,"scale":{"domain":["violet","magenta","blue","orange","red","olive"],"range":["#C71585","#FF00FF","#1E90FF","#FF8C00","#FF4500","#556B2F"]}},"strokeDash":{"field":"kind","type":"nominal","legend":null,"scale":{"domain":["heavy","solid","dash","dashdot"],"range":[[1,0],[1,0],[18,6],[18,6,4,6]]}},"strokeWidth":{"field":"kind","type":"nominal","legend":null,"scale":{"domain":["heavy","solid","dash","dashdot"],"range":[2,1.2,1.2,1.2]}}}},
{"data":{"name":"last"},"mark":{"type":"rule","color":"#c0c0c0","strokeWidth":1.2},"encoding":{"y":{"field":"p","type":"quantitative","title":null,"scale":{"domain":[103191,117085],"nice":false,"zero":false}}}},
{"data":{"name":"c"},"mark":{"type":"rule","color":"#000000","strokeWidth":1.2},"encoding":{"x":{"field":"i","type":"quantitative","title":null,"scale":{"domain":[-0.125,916.625],"nice":false,"zero":false},"axis":{"orient":"bottom","title":null,"domain":false,"values":[0,24,48,72,96,120,144,168,192,216,240,264,288,312,336,360,384,408,432,456,480,504,528,552,576,600,624,648,672,696,720,744,768,792,816,840,864,888,912],"grid":true,"gridColor":"#b0b0b0","gridDash":[4,3],"gridWidth":1,"tickColor":"#000000","tickSize":3,"tickOpacity":{"condition":{"test":"datum.value % 48 == 0 && datum.value <= 624","value":1},"value":0},"labelAlign":"left","labelBaseline":"middle","labelPadding":19,"labelOffset":-5,"labelFont":"Liberation Sans","labelFontSize":28,"labelColor":"#000000","labelFlush":false,"labelOverlap":false,"labelBound":false,"labelExpr":"['16 Oct 2025','17 Oct 21:00','19 Oct 04:00','20 Oct 04:00','21 Oct 04:00','22 Oct 04:00','23 Oct 04:00','24 Oct 04:00','25 Oct 06:00','26 Oct 14:30','27 Oct 14:30','28 Oct 14:30','29 Oct 14:30','30 Oct 14:30'][datum.value/48]||''"}},"y":{"field":"l","type":"quantitative","title":null,"scale":{"domain":[103191,117085],"nice":false,"zero":false},"axis":{"orient":"right","title":null,"domain":false,"values":[116872,116137,115409.5,114674.5,113939.5,113204.5,112477,111740,111004.5,110287,109552,108824.5,108089.5,107362,106627,105892,105164.5,104429.5,103702],"format":".2f","grid":true,"gridColor":"#b0b0b0","gridDash":[4,3],"gridWidth":1,"tickColor":"#000000","tickSize":3,"labelPadding":10,"labelBaseline":"middle","labelFont":"Liberation Sans","labelFontSize":26.5,"labelColor":"#000000","labelOverlap":false,"labelBound":false}},"y2":{"field":"h"}}},
{"data":{"name":"c"},"mark":{"type":"bar","width":2,"stroke":"#000000","strokeWidth":1},"encoding":{"x":{"field":"i","type":"quantitative","title":null,"scale":{"domain":[-0.125,916.625],"nice":false,"zero":false}},"y":{"field":"o","type":"quantitative","title":null,"scale":{"domain":[103191,117085],"nice":false,"zero":false}},"y2":{"field":"c"},"fill":{"condition":{"test":"datum.c >= datum.o","value":"#ffffff"},"value":"#000000"}}},
{"data":{"name":"levels"},"mark":{"type":"text","font":"Liberation Sans","fontSize":32.4,"align":"center","baseline":"middle","dy":17},"encoding":{"x":{"datum":632.4,"type":"quantitative","title":null,"scale":{"domain":[-0.125,916.625],"nice":false,"zero":false}},"y":{"field":"p","type":"quantitative","title":null,"scale":{"domain":[103191,117085],"nice":false,"zero":false}},"text":{"field":"name"},"color":{"field":"band","type":"nominal","legend":null,"scale":{"domain":["violet","magenta","blue","orange","red","olive"],"range":["#C71585","#FF00FF","#1E90FF","#FF8C00","#FF4500","#556B2F"]}}}},
{"data":{"name":"levels"},"mark":{"type":"rect","width":148,"height":34,"yOffset":10.5},"encoding":{"x":{"datum":936.3,"type":"quantitative","title":null,"scale":{"domain":[-0.125,916.625],"nice":false,"zero":false}},"y":{"field":"p","type":"quantitative","title":null,"scale":{"domain":[103191,117085],"nice":false,"zero":false}},"color":{"field":"band","type":"nominal","legend":null,"scale":{"domain":["violet","magenta","blue","orange","red","olive"],"range":["#C71585","#FF00FF","#1E90FF","#FF8C00","#FF4500","#556B2F"]}}}},
{"data":{"name":"levels"},"mark":{"type":"text","font":"Liberation Sans","fontSize":26.5,"align":"center","baseline":"middle","dy":11,"color":"#ffffff"},"encoding":{"x":{"datum":936.3,"type":"quantitative","title":null,"scale":{"domain":[-0.125,916.625],"nice":false,"zero":false}},"y":{"field":"p","type":"quantitative","title":null,"scale":{"domain":[103191,117085],"nice":false,"zero":false}},"text":{"field":"tag"}}},
{"data":{"name":"last"},"mark":{"type":"rect","width":148,"height":29,"yOffset":2.5,"color":"#000000"},"encoding":{"x":{"datum":936.3,"type":"quantitative","title":null,"scale":{"domain":[-0.125,916.625],"nice":false,"zero":false}},"y":{"field":"p","type":"quantitative","title":null,"scale":{"domain":[103191,117085],"nice":false,"zero":false}}}},
{"data":{"name":"last"},"mark":{"type":"text","font":"Liberation Sans","fontSize":26.5,"align":"center","baseline":"middle","dy":1.5,"color":"#ffffff"},"encoding":{"x":{"datum":936.3,"type":"quantitative","title":null,"scale":{"domain":[-0.125,916.625],"nice":false,"zero":false}},"y":{"field":"p","type":"quantitative","title":null,"scale":{"domain":[103191,117085],"nice":false,"zero":false}},"text":{"field":"tag"}}},
{"data":{"name":"head"},"mark":{"type":"text","font":"Liberation Sans","fontSize":27.4,"align":"left","baseline":"middle","color":"#000000"},"encoding":{"x":{"field":"i","type":"quantitative","title":null,"scale":{"domain":[-0.125,916.625],"nice":false,"zero":false}},"y":{"field":"p","type":"quantitative","title":null,"scale":{"domain":[103191,117085],"nice":false,"zero":false}},"text":{"field":"t"}}},
{"data":{"name":"notes"},"transform":[{"filter":"datum.what == 'cross'"}],"mark":{"type":"point","filled":true,"opacity":1,"fill":"#F4545A","strokeWidth":0,"size":3600,"shape":"M-0.6 0.36 L0.45 -0.5 L0.62 -0.32 L-0.45 0.5 Z M-0.45 -0.5 L0.6 0.3 L0.45 0.5 L-0.6 -0.3 Z"},"encoding":{"x":{"field":"i","type":"quantitative","title":null,"scale":{"domain":[-0.125,916.625],"nice":false,"zero":false}},"y":{"field":"p","type":"quantitative","title":null,"scale":{"domain":[103191,117085],"nice":false,"zero":false}}}},
{"data":{"name":"notes"},"transform":[{"filter":"datum.what == 'cursor'"}],"mark":{"type":"point","filled":true,"opacity":1,"fill":"#ffffff","stroke":"#000000","strokeWidth":2,"size":3600,"shape":"M-0.6 -0.9 L0.593 0.247 L0.03 0.247 L0.28 0.733 L0.03 0.9 L-0.227 0.31 L-0.6 0.753 Z"},"encoding":{"x":{"field":"i","type":"quantitative","title":null,"scale":{"domain":[-0.125,916.625],"nice":false,"zero":false}},"y":{"field":"p","type":"quantitative","title":null,"scale":{"domain":[103191,117085],"nice":false,"zero":false}}}},
{"data":{"name":"notes"},"transform":[{"filter":"datum.what == 'shift'"}],"mark":{"type":"point","filled":true,"opacity":1,"fill":"#bdbdbd","strokeWidth":0,"size":900,"shape":"triangle-down"},"encoding":{"x":{"field":"i","type":"quantitative","title":null,"scale":{"domain":[-0.125,916.625],"nice":false,"zero":false}},"y":{"field":"p","type":"quantitative","title":null,"scale":{"domain":[103191,117085],"nice":false,"zero":false}}}},
{"data":{"name":"notes"},"transform":[{"filter":"datum.what == 'menu'"}],"mark":{"type":"point","filled":true,"opacity":1,"fill":"#000000","strokeWidth":0,"size":160,"shape":"triangle-down"},"encoding":{"x":{"field":"i","type":"quantitative","title":null,"scale":{"domain":[-0.125,916.625],"nice":false,"zero":false}},"y":{"field":"p","type":"quantitative","title":null,"scale":{"domain":[103191,117085],"nice":false,"zero":false}}}}
]}
